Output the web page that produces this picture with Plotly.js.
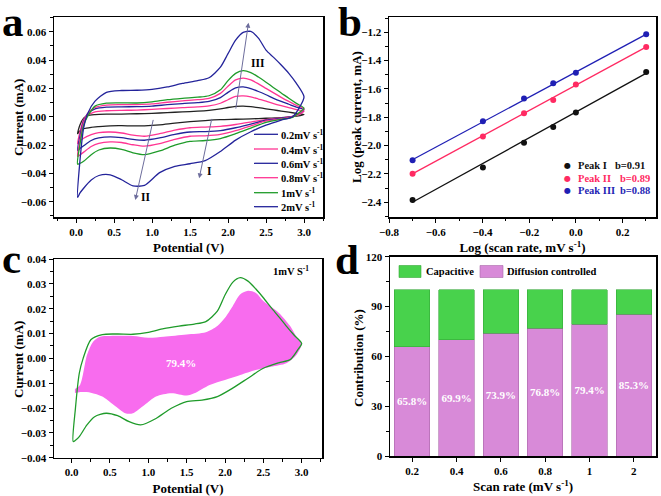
<!DOCTYPE html>
<html>
<head>
<meta charset="utf-8">
<script src="https://cdn.plot.ly/plotly-3.0.1.min.js"></script>
<style>
  html, body { margin: 0; padding: 0; background: #fff; }
  #fig { width: 661px; height: 496px; }
</style>
</head>
<body>
<div id="fig"></div>
<script>
// ---- data ----

// CV loops (panel a): anodic sweep 0 -> 3 V, then cathodic sweep back
var potential = [0.02, 0.05, 0.1, 0.15, 0.25, 0.4, 0.6, 0.8, 1.0, 1.2, 1.4, 1.6, 1.75, 1.9, 2.0, 2.1, 2.2, 2.3, 2.4, 2.5, 2.6, 2.7, 2.8, 2.9, 3.0,
                 2.95, 2.85, 2.7, 2.5, 2.3, 2.1, 1.9, 1.7, 1.5, 1.3, 1.1, 0.9, 0.75, 0.6, 0.45, 0.3, 0.2, 0.1, 0.05, 0.02];

var cv02 = [-0.012, -0.006, -0.001, 0.0008, 0.0015, 0.0018, 0.0019, 0.0021, 0.0024, 0.0029, 0.0034, 0.0039, 0.0045, 0.0055, 0.0065, 0.0073, 0.0075, 0.0071, 0.0064, 0.0056, 0.0048, 0.004, 0.0032, 0.0024, 0.0015,
            0.0008, 0.0, -0.0006, -0.0011, -0.0015, -0.0018, -0.0021, -0.0027, -0.0035, -0.0045, -0.0057, -0.0064, -0.0065, -0.0063, -0.0064, -0.007, -0.0075, -0.0085, -0.01, -0.012];
var cv04 = [-0.019, -0.011, -0.002, 0.001, 0.0035, 0.0042, 0.0045, 0.0047, 0.0052, 0.0058, 0.0064, 0.0069, 0.0076, 0.0095, 0.012, 0.0143, 0.0147, 0.014, 0.0125, 0.011, 0.0093, 0.0078, 0.0064, 0.005, 0.0038,
            0.002, 0.0002, -0.0008, -0.002, -0.0038, -0.0055, -0.0068, -0.0073, -0.0078, -0.0095, -0.012, -0.0138, -0.013, -0.0115, -0.0108, -0.0112, -0.0127, -0.0152, -0.0172, -0.019];
var cv06 = [-0.024, -0.014, -0.003, 0.002, 0.0055, 0.0068, 0.007, 0.0071, 0.0075, 0.0085, 0.0093, 0.0099, 0.0108, 0.0135, 0.0172, 0.0203, 0.021, 0.0198, 0.0178, 0.0155, 0.013, 0.0108, 0.0088, 0.0068, 0.005,
            0.0028, 0.0003, -0.001, -0.0025, -0.0052, -0.0078, -0.0098, -0.0105, -0.0108, -0.0125, -0.015, -0.0166, -0.016, -0.0148, -0.0142, -0.015, -0.0168, -0.0205, -0.0225, -0.024];
var cv08 = [-0.028, -0.017, -0.004, 0.002, 0.0065, 0.0082, 0.0085, 0.0086, 0.009, 0.0102, 0.0112, 0.012, 0.013, 0.0165, 0.0215, 0.026, 0.0273, 0.026, 0.0232, 0.02, 0.0168, 0.0137, 0.0108, 0.008, 0.0055,
            0.003, 0.0, -0.0015, -0.003, -0.0065, -0.0098, -0.0125, -0.0135, -0.0138, -0.016, -0.019, -0.0208, -0.0198, -0.0182, -0.0178, -0.0188, -0.021, -0.025, -0.027, -0.028];
var cv1 = [-0.0335, -0.02, -0.006, 0.0, 0.0075, 0.0096, 0.0098, 0.0097, 0.0105, 0.012, 0.013, 0.0138, 0.0148, 0.019, 0.0255, 0.0306, 0.0325, 0.0311, 0.028, 0.0244, 0.0205, 0.0168, 0.013, 0.0094, 0.006,
           0.0035, -0.0005, -0.0018, -0.004, -0.008, -0.012, -0.0154, -0.0168, -0.0174, -0.0201, -0.0242, -0.0268, -0.0255, -0.0231, -0.0221, -0.0235, -0.0268, -0.0315, -0.033, -0.0335];
var cv2 = [-0.057, -0.032, -0.008, 0.002, 0.011, 0.0172, 0.0185, 0.0187, 0.0193, 0.021, 0.0235, 0.0255, 0.0275, 0.035, 0.0445, 0.054, 0.0595, 0.0602, 0.0555, 0.047, 0.0419, 0.0365, 0.0306, 0.0235, 0.0141,
           0.0075, 0.0, -0.0024, -0.006, -0.0106, -0.0165, -0.0245, -0.031, -0.0332, -0.035, -0.0395, -0.0485, -0.0488, -0.0445, -0.041, -0.0415, -0.0447, -0.0505, -0.054, -0.057];

var cvNames = ['0.2mV s<sup>-1</sup>', '0.4mV s<sup>-1</sup>', '0.6mV s<sup>-1</sup>', '0.8mV s<sup>-1</sup>', '1mV s<sup>-1</sup>', '2mV s<sup>-1</sup>'];

// diffusion-controlled region at 1 mV/s (panel c)
var diffV = [0.043, 0.11, 0.2, 0.28, 0.37, 0.5, 0.8, 1.0, 1.2, 1.5, 1.75, 1.9, 2.0, 2.1, 2.2, 2.3, 2.4, 2.5, 2.7, 2.85, 2.95, 3.0,
             2.93, 2.8, 2.6, 2.4, 2.2, 2.0, 1.8, 1.6, 1.5, 1.3, 1.1, 0.95, 0.8, 0.7, 0.55, 0.4, 0.25, 0.1, 0.043];
var diffI = [-0.0123, -0.0107, 0.0013, 0.0067, 0.0087, 0.009, 0.009, 0.0083, 0.0087, 0.0096, 0.0105, 0.013, 0.0163, 0.021, 0.0258, 0.0272, 0.0264, 0.0231, 0.0184, 0.013, 0.0077, 0.006,
             0.0013, -0.002, -0.0034, -0.0047, -0.0067, -0.0087, -0.0107, -0.0141, -0.015, -0.0141, -0.0154, -0.0188, -0.0221, -0.0221, -0.0188, -0.0154, -0.0138, -0.0136, -0.014];

// b-value fits (panel b)
var logRate = [-0.699, -0.398, -0.222, -0.097, 0, 0.301];
var peakI   = [-2.384, -2.155, -1.979, -1.868, -1.767, -1.48];
var peakII  = [-2.198, -1.936, -1.772, -1.678, -1.569, -1.304];
var peakIII = [-2.104, -1.828, -1.668, -1.56, -1.485, -1.214];
var fitX    = [-0.7, 0.3];
var fitI    = [-2.40, -1.49];
var fitII   = [-2.20, -1.305];
var fitIII  = [-2.10, -1.215];
var peakNames = ['Peak I', 'Peak II', 'Peak III'];
var bValues = ['b=0.91', 'b=0.89', 'b=0.88'];

// contribution (panel d)
var scanRates = ['0.2', '0.4', '0.6', '0.8', '1', '2'];
var diffusion = [65.8, 69.9, 73.9, 76.8, 79.4, 85.3];
var capacitive = [34.2, 30.1, 26.1, 23.2, 20.6, 14.7];

// ---- helpers ----
var W = 661, H = 496;
function px(x) { return x / W; }
function py(y) { return 1 - y / H; }

var NAVY = '#23239a', PINK = '#ff3593', GREEN = '#1f9b2a', BLACK = '#222222';
var SERIF = 'Liberation Serif';
var tickFont = {family: SERIF, size: 11, color: '#000', weight: 'bold'};
var titleFont = {family: SERIF, size: 13, color: '#000', weight: 'bold'};

function axis(domain, range, extra) {
  var a = {
    domain: domain, range: range, showgrid: false, zeroline: false,
    showline: true, linecolor: '#000', linewidth: 1.5, mirror: true,
    ticks: 'outside', ticklen: 4, tickwidth: 1, tickcolor: '#000',
    tickfont: tickFont, fixedrange: true
  };
  for (var k in extra) a[k] = extra[k];
  return a;
}
function minor(d) { return {ticks: 'outside', ticklen: 2.5, tickcolor: '#000', dtick: d, showgrid: false}; }

// ---- traces ----
var traces = [];
var cvData = [cv02, cv04, cv06, cv08, cv1, cv2];
var cvColors = [BLACK, PINK, NAVY, PINK, GREEN, NAVY];
cvData.forEach(function (cur, i) {
  traces.push({x: potential, y: cur, name: cvNames[i], type: 'scatter', mode: 'lines',
    line: {color: cvColors[i], width: 1.3, shape: 'spline', smoothing: 0.7},
    xaxis: 'x', yaxis: 'y', showlegend: false});
});

// panel b
var peakSets = [[peakI, fitI, '#111111'], [peakII, fitII, '#ff2a62'], [peakIII, fitIII, '#1f1fb4']];
peakSets.forEach(function (p) {
  traces.push({x: fitX, y: p[1], type: 'scatter', mode: 'lines', line: {color: p[2], width: 1.3},
    xaxis: 'x2', yaxis: 'y2', showlegend: false});
  traces.push({x: logRate, y: p[0], type: 'scatter', mode: 'markers', marker: {color: p[2], size: 6},
    xaxis: 'x2', yaxis: 'y2', showlegend: false});
});

// panel c
traces.push({x: diffV, y: diffI, type: 'scatter', mode: 'lines', fill: 'toself', fillcolor: '#f86cee',
  line: {width: 0, shape: 'spline', smoothing: 0.8}, xaxis: 'x3', yaxis: 'y3', showlegend: false});
traces.push({x: potential, y: cv1, type: 'scatter', mode: 'lines',
  line: {color: GREEN, width: 1.3, shape: 'spline', smoothing: 0.7}, xaxis: 'x3', yaxis: 'y3', showlegend: false});

// panel d
traces.push({x: scanRates, y: diffusion, type: 'bar', name: 'Diffusion controlled', width: 0.8,
  marker: {color: '#d88ad8', line: {color: '#a968a9', width: 0.6}},
  text: diffusion, texttemplate: '%{y}%', textposition: 'inside', insidetextanchor: 'middle', textangle: 0,
  textfont: {family: SERIF, size: 11, color: '#fff', weight: 'bold'}, constraintext: 'none',
  xaxis: 'x4', yaxis: 'y4', showlegend: false});
traces.push({x: scanRates, y: capacitive, type: 'bar', name: 'Capacitive', width: 0.8,
  marker: {color: '#48d24c', line: {color: '#35a838', width: 0.6}}, textposition: 'none',
  xaxis: 'x4', yaxis: 'y4', showlegend: false});

// ---- annotations & legend keys ----
var ann = [];
var shapes = [];
function label(txt, x, y, size, opts) {
  var a = {text: txt, xref: 'paper', yref: 'paper', x: px(x), y: py(y), showarrow: false,
    xanchor: 'left', yanchor: 'middle', font: {family: SERIF, size: size, color: '#000', weight: 'bold'}};
  for (var k in opts) a[k] = opts[k];
  ann.push(a);
}
function ytitle(txt, x, y) {
  ann.push({text: txt, xref: 'paper', yref: 'paper', x: px(x), y: py(y), showarrow: false, textangle: -90,
    xanchor: 'center', yanchor: 'middle', font: titleFont});
}

// panel letters
label('a', 0, 21, 43);
label('b', 336, 21, 43);
label('c', 0, 258, 43);
label('d', 333, 259, 43);

// y-axis titles
ytitle('Current (mA)', 18, 118);
ytitle('Log (peak current, mA)', 357, 117);
ytitle('Current (mA)', 18, 360);
ytitle('Contribution (%)', 358, 358);

// panel a legend (colours as printed in the original legend)
var legendA = [NAVY, PINK, NAVY, PINK, GREEN, NAVY];
var rowsA = [134.3, 149, 163.3, 177.7, 192.7, 206.7];
cvNames.forEach(function (n, i) {
  shapes.push({type: 'line', xref: 'paper', yref: 'paper', x0: px(254), x1: px(278), y0: py(rowsA[i]), y1: py(rowsA[i]),
    line: {color: legendA[i], width: 1.3}});
  label(n, 279, rowsA[i], 10.5);
});

// panel a arrows
function arrow(x, y, ax, ay) {
  ann.push({xref: 'x', yref: 'y', axref: 'x', ayref: 'y', x: x, y: y, ax: ax, ay: ay, text: '',
    showarrow: true, arrowhead: 2, arrowsize: 1, arrowwidth: 1, arrowcolor: '#6d6d9c'});
}
arrow(2.27, 0.0664, 2.10, 0.0047);
arrow(0.78, -0.0588, 1.02, -0.0012);
arrow(1.62, -0.0435, 1.79, -0.0005);
[['III', 2.4, 0.038], ['II', 0.92, -0.0565], ['I', 1.76, -0.0385]].forEach(function (t) {
  ann.push({xref: 'x', yref: 'y', x: t[1], y: t[2], text: t[0], showarrow: false,
    font: {family: SERIF, size: 11.5, color: '#000', weight: 'bold'}});
});

// panel b legend
var rowsB = [165, 178.7, 190.7];
var colsB = [613, 618, 618];
var colorsB = ['#111111', '#ff2a62', '#1f1fb4'];
peakNames.forEach(function (n, i) {
  label('\u25CF', 562, rowsB[i], 8, {font: {family: 'DejaVu Sans', size: 8, color: colorsB[i]}});
  label(n, 576, rowsB[i], 10.5, {font: {family: SERIF, size: 10.5, color: colorsB[i], weight: 'bold'}});
  label(bValues[i], colsB[i], rowsB[i], 10.5, {font: {family: SERIF, size: 10.5, color: colorsB[i], weight: 'bold'}});
});

// panel c texts
ann.push({xref: 'x3', yref: 'y3', x: 1.43, y: -0.002, text: '79.4%', showarrow: false,
  font: {family: SERIF, size: 11, color: '#fff', weight: 'bold'}});
ann.push({xref: 'x3', yref: 'y3', x: 2.86, y: 0.0352, text: '1mV S<sup>-1</sup>', showarrow: false,
  font: {family: SERIF, size: 10.5, color: '#000', weight: 'bold'}});

// panel d legend
shapes.push({type: 'rect', xref: 'paper', yref: 'paper', x0: px(399), x1: px(421), y0: py(277.5), y1: py(265.5),
  fillcolor: '#48d24c', line: {color: '#35a838', width: 0.6}});
shapes.push({type: 'rect', xref: 'paper', yref: 'paper', x0: px(480), x1: px(503), y0: py(277.5), y1: py(265.5),
  fillcolor: '#d88ad8', line: {color: '#a968a9', width: 0.6}});
label('Capacitive', 424, 271.5, 10.5);
label('Diffusion controlled', 505, 271.5, 10.5);

// ---- layout ----
var layout = {
  width: W, height: H,
  margin: {l: 0, r: 0, t: 0, b: 0},
  paper_bgcolor: '#fff', plot_bgcolor: '#fff',
  showlegend: false, barmode: 'stack',
  font: {family: SERIF, color: '#000'},
  xaxis: axis([px(54), px(323)], [-0.29, 3.25], {anchor: 'y', dtick: 0.5, tick0: 0, tickformat: '.1f', minor: minor(0.25),
    title: {text: 'Potential (V)', font: titleFont, standoff: 6}}),
  yaxis: axis([py(217), py(17)], [-0.0708, 0.0704], {anchor: 'x', dtick: 0.02, tick0: 0, tickformat: '.2f', minor: minor(0.01)}),
  xaxis2: axis([px(389), px(656)], [-0.8, 0.343], {anchor: 'y2', dtick: 0.2, tick0: 0, tickformat: '.1f', minor: minor(0.1),
    title: {text: 'Log (scan rate, mV s<sup>-1</sup>)', font: titleFont, standoff: 6}}),
  yaxis2: axis([py(217), py(17)], [-2.504, -1.092], {anchor: 'x2', dtick: 0.2, tick0: 0, tickformat: '.1f', minor: minor(0.1)}),
  xaxis3: axis([px(54), px(322)], [-0.23, 3.265], {anchor: 'y3', dtick: 0.5, tick0: 0, tickformat: '.1f', minor: minor(0.25),
    title: {text: 'Potential (V)', font: titleFont, standoff: 6}}),
  yaxis3: axis([py(457.7), py(259)], [-0.04, 0.04], {anchor: 'x3', dtick: 0.01, tick0: 0, tickformat: '.2f', minor: minor(0.005)}),
  xaxis4: axis([px(390), px(656)], [-0.5, 5.5], {anchor: 'y4', type: 'category',
    title: {text: 'Scan rate (mV s<sup>-1</sup>)', font: titleFont, standoff: 6}}),
  yaxis4: axis([py(456), py(256.7)], [0, 120], {anchor: 'x4', dtick: 30, tick0: 0, minor: minor(15)}),
  annotations: ann,
  shapes: shapes
};

Plotly.newPlot('fig', traces, layout, {staticPlot: true, displayModeBar: false});
</script>
</body>
</html>
